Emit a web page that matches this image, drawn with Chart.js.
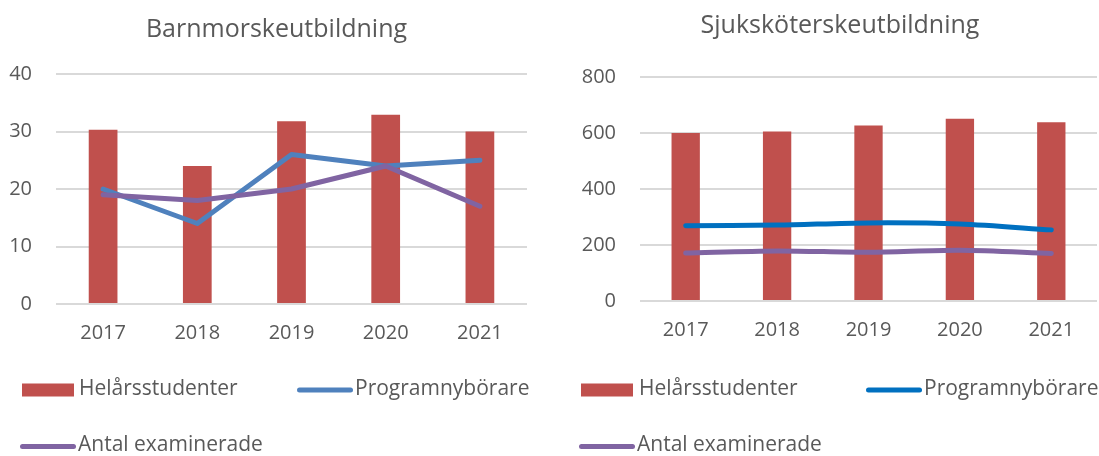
<!DOCTYPE html>
<html>
<head>
<meta charset="utf-8">
<script src="https://cdn.jsdelivr.net/npm/chart.js@4.4.1/dist/chart.umd.min.js"></script>
<style>
  html, body { margin: 0; padding: 0; background: #ffffff; }
  body { width: 1099px; height: 456px; position: relative; overflow: hidden; }
  canvas { position: absolute; top: 0; }
  #c1 { left: 0px; }
  #c2 { left: 576px; }
</style>
</head>
<body>
<canvas id="c1" width="553" height="456"></canvas>
<canvas id="c2" width="523" height="456"></canvas>
<script>
// ---- Data ----
const years = ['2017', '2018', '2019', '2020', '2021'];
const seriesNames = ['Helårsstudenter', 'Programnybörare', 'Antal examinerade'];

const barnTitle = 'Barnmorskeutbildning';
const barnHelars = [30.3, 24, 31.8, 32.9, 30];
const barnProgram = [20, 14, 26, 24, 25];
const barnExamen = [19, 18, 20, 24, 17];
const barnYTicks = [0, 10, 20, 30, 40];

const sjukTitle = 'Sjuksköterskeutbildning';
const sjukHelars = [600, 605, 627, 651, 638];
const sjukProgram = [269, 271, 279, 275, 254];
const sjukExamen = [171, 179, 174, 181, 170];
const sjukYTicks = [0, 200, 400, 600, 800];

// ---- Styles ----
const TEXT = '#595959';
const FONT = "'Open Sans', sans-serif";
const RED = '#C0504D';
const PURPLE = '#8064A2';

// Title + legend drawn on the chart canvas, positioned like the original
const decorPlugin = {
  id: 'decor',
  afterDraw(chart, args, opts) {
    const ctx = chart.ctx;
    ctx.save();
    // title
    ctx.fillStyle = TEXT;
    ctx.font = opts.titleSize + 'px ' + FONT;
    ctx.textAlign = 'center';
    ctx.textBaseline = 'alphabetic';
    ctx.fillText(opts.title, opts.titleX, opts.titleY);
    // legend
    ctx.font = opts.fontSize + 'px ' + FONT;
    ctx.textBaseline = 'middle';
    ctx.textAlign = 'left';
    opts.items.forEach((it, i) => {
      const ds = chart.data.datasets[i];
      if (ds.type === 'bar') {
        ctx.fillStyle = ds.backgroundColor;
        ctx.fillRect(it.x, it.y - 6.5, opts.sampleW, 13);
      } else {
        ctx.strokeStyle = ds.borderColor;
        ctx.lineWidth = 5;
        ctx.lineCap = 'round';
        ctx.beginPath();
        ctx.moveTo(it.x + 2.5, it.y);
        ctx.lineTo(it.x + opts.sampleW + 1.5, it.y);
        ctx.stroke();
      }
      ctx.fillStyle = TEXT;
      const tx = ds.type === 'bar' ? it.x + opts.sampleW + opts.gap : it.x + opts.sampleW + 6;
      ctx.fillText(ds.label, tx, it.y - 1);
    });
    ctx.restore();
  }
};

function makeChart(id, cfg) {
  const yt = cfg.yTicks;
  return new Chart(document.getElementById(id), {
    data: {
      labels: years,
      datasets: [
        { type: 'bar', label: seriesNames[0], data: cfg.bars, backgroundColor: RED,
          barPercentage: 1, categoryPercentage: cfg.barFrac, order: 3 },
        { type: 'line', label: seriesNames[1], data: cfg.prog, borderColor: cfg.blue,
          borderWidth: 5, pointRadius: 0, tension: cfg.tension, borderCapStyle: 'round',
          borderJoinStyle: 'round', order: 2 },
        { type: 'line', label: seriesNames[2], data: cfg.exam, borderColor: PURPLE,
          borderWidth: 5, pointRadius: 0, tension: cfg.tension, borderCapStyle: 'round',
          borderJoinStyle: 'round', order: 1 }
      ]
    },
    options: {
      responsive: false,
      animation: false,
      layout: { padding: { left: cfg.padLeft, right: cfg.padRight, top: cfg.padTop, bottom: 0 } },
      plugins: {
        legend: { display: false },
        tooltip: { enabled: false },
        title: { display: false },
        decor: cfg.decor
      },
      scales: {
        x: {
          grid: { display: false, drawTicks: false },
          border: { display: false },
          ticks: { color: TEXT, font: { family: FONT, size: 20 }, padding: 17 },
          afterFit(s) { s.height = cfg.xHeight; }
        },
        y: {
          min: yt[0], max: yt[yt.length - 1],
          grid: { color: '#D9D9D9', lineWidth: 2, drawTicks: false },
          border: { display: false },
          ticks: { stepSize: yt[1] - yt[0], color: TEXT, font: { family: FONT, size: 20 }, padding: 24 },
          afterFit(s) { s.width = cfg.yWidth; }
        }
      }
    },
    plugins: [decorPlugin]
  });
}

makeChart('c1', {
  bars: barnHelars, prog: barnProgram, exam: barnExamen, yTicks: barnYTicks,
  blue: '#4F81BD', tension: 0, barFrac: 0.305,
  padLeft: 0, padRight: 26, padTop: 74, yWidth: 56, xHeight: 152,
  decor: { title: barnTitle, titleSize: 25, titleX: 276.5, titleY: 37,
    fontSize: 21, sampleW: 52, gap: 5,
    items: [{ x: 22, y: 390 }, { x: 297, y: 390 }, { x: 20, y: 446.5 }] }
});

makeChart('c2', {
  bars: sjukHelars, prog: sjukProgram, exam: sjukExamen, yTicks: sjukYTicks,
  blue: '#0070C0', tension: 0.3, barFrac: 0.31,
  padLeft: 0, padRight: 2, padTop: 77, yWidth: 64, xHeight: 155,
  decor: { title: sjukTitle, titleSize: 25, titleX: 264, titleY: 33,
    fontSize: 21, sampleW: 52, gap: 6,
    items: [{ x: 5, y: 390 }, { x: 290, y: 390 }, { x: 3, y: 446.5 }] }
});
</script>
</body>
</html>
